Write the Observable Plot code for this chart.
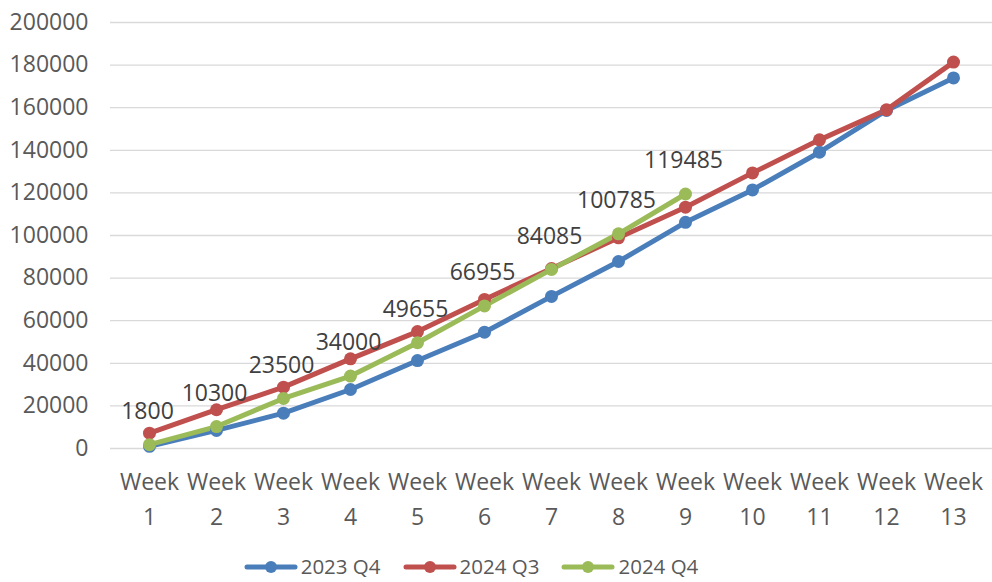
<!DOCTYPE html>
<html>
<head>
<meta charset="utf-8">
<script src="https://cdn.jsdelivr.net/npm/d3@7"></script>
<script src="https://cdn.jsdelivr.net/npm/@observablehq/plot@0.6"></script>
<style>
  body { margin: 0; background: #fff; font-family: "Open Sans", sans-serif; }
  #chart { width: 992px; }
  .legend { display: flex; justify-content: center; gap: 22px; height: 31px; align-items: center; font-size: 20.5px; line-height: 1; color: #595959; padding-right: 50px; box-sizing: border-box; width: 992px; }
  .legend span { display: inline-flex; align-items: center; gap: 3px; }
</style>
</head>
<body>
<div id="chart"></div>
<script>
const weeks = [1,2,3,4,5,6,7,8,9,10,11,12,13];
const series = ["2023 Q4", "2024 Q3", "2024 Q4"];
const colors = ["#4a7ebb", "#c0504d", "#9bbb59"];
const q4_2023 = [1000, 8500, 16600, 27700, 41300, 54600, 71400, 87800, 106200, 121400, 139100, 158700, 174000];
const q3_2024 = [7200, 18200, 28800, 42100, 54900, 70000, 84500, 98900, 113300, 129400, 144900, 159000, 181400];
const q4_2024 = [1800, 10300, 23500, 34000, 49655, 66955, 84085, 100785, 119485];
const yTicks = [0, 20000, 40000, 60000, 80000, 100000, 120000, 140000, 160000, 180000, 200000];

const values = [q4_2023, q3_2024, q4_2024];
const rows = [];
series.forEach((s, i) => values[i].forEach((v, j) => rows.push({series: s, week: weeks[j], value: v})));
const labelRows = rows.filter(d => d.series === "2024 Q4");

const plot = Plot.plot({
  width: 992,
  height: 551,
  marginLeft: 110,
  marginRight: 0,
  marginTop: 22,
  marginBottom: 103,
  style: {fontFamily: "Open Sans, sans-serif", fontSize: "23px", color: "#595959", background: "#fff"},
  x: {type: "point", domain: weeks, padding: 0.5, label: null},
  y: {domain: [0, 200000], label: null},
  color: {domain: series, range: colors},
  marks: [
    Plot.ruleY(yTicks, {stroke: "#d9d9d9", strokeWidth: 1.3}),
    Plot.axisY({ticks: yTicks, tickFormat: d3.format("d"), tickSize: 0, tickPadding: 22, fontSize: 23, fill: "#595959", label: null}),
    Plot.axisX({tickFormat: d => "Week\n" + d, tickSize: 0, tickPadding: 17, lineHeight: 1.52, fontSize: 23, fill: "#595959", label: null}),
    Plot.line(rows, {x: "week", y: "value", z: "series", stroke: "series", strokeWidth: 5, strokeLinecap: "round", strokeLinejoin: "round"}),
    Plot.dot(rows, {x: "week", y: "value", fill: "series", r: 6.5, stroke: null}),
    Plot.text(labelRows, {x: "week", y: "value", text: d => String(d.value), dy: -33, dx: -2, fontSize: 23, fill: "#404040"})
  ]
});
document.getElementById("chart").appendChild(plot);

const legend = document.createElement("div");
legend.className = "legend";
series.forEach((s, i) => {
  const item = document.createElement("span");
  item.innerHTML = `<svg width="54" height="14"><line x1="3" y1="7" x2="51" y2="7" stroke="${colors[i]}" stroke-width="5" stroke-linecap="round"/><circle cx="27" cy="7" r="6" fill="${colors[i]}"/></svg>${s}`;
  legend.appendChild(item);
});
document.getElementById("chart").appendChild(legend);
</script>
</body>
</html>
